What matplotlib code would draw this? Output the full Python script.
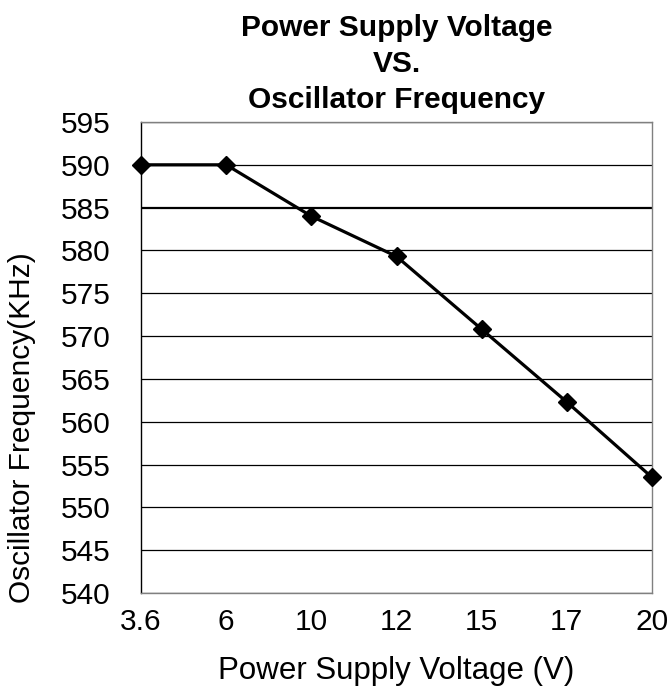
import matplotlib
matplotlib.use("Agg")
import matplotlib.pyplot as plt

voltages = ["3.6", "6", "10", "12", "15", "17", "20"]
frequency = [590.0, 590.0, 584.0, 579.3, 570.8, 562.3, 553.5]
y_ticks = [540, 545, 550, 555, 560, 565, 570, 575, 580, 585, 590, 595]

plt.rcParams['font.family'] = ['Liberation Sans', 'DejaVu Sans']

fig = plt.figure(figsize=(6.69, 6.90), dpi=100)
ax = fig.add_axes([0.2108, 0.1406, 0.9746 - 0.2108, 0.8232 - 0.1406])

x = list(range(len(voltages)))
for yt in y_ticks:
    ax.axhline(yt, color='black', lw=1.6 if yt == 585 else 0.9, zorder=1)

ax.plot(x, frequency, color='black', lw=2.3, marker='D', markersize=9.5,
        markerfacecolor='black', markeredgecolor='black', zorder=3, clip_on=False)

ax.set_xlim(0, len(voltages) - 1)
ax.set_ylim(540, 595)
ax.set_xticks(x)
ax.set_xticklabels(voltages)
ax.set_yticks(y_ticks)
ax.tick_params(axis='both', length=0, labelsize=21.5)
ax.tick_params(axis='y', pad=22)
ax.tick_params(axis='x', pad=11)

for side in ['top', 'bottom', 'right']:
    ax.spines[side].set_color('#808080')
    ax.spines[side].set_linewidth(1.0)
ax.spines['left'].set_color('black')
ax.spines['left'].set_linewidth(1.0)

ax.set_xlabel("Power Supply Voltage (V)", fontsize=22.5, labelpad=14)
ax.set_ylabel("Oscillator Frequency(KHz)", fontsize=21.5)
ax.yaxis.set_label_coords(-0.205, 0.352)
ax.set_title("Power Supply Voltage\nVS.\nOscillator Frequency", fontsize=21.5,
             fontweight='bold', linespacing=1.36, pad=10)

fig.savefig("out.png", dpi=100)
